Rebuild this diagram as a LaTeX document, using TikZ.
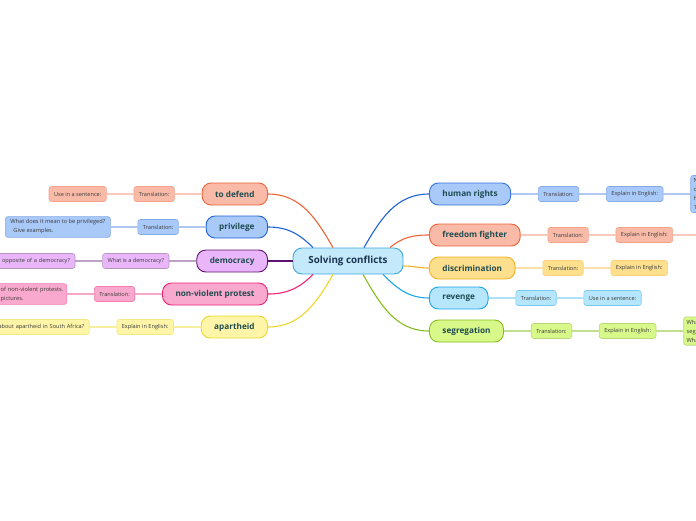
\documentclass[tikz,border=0pt]{standalone}
\usepackage{fontspec}
\setmainfont{Open Sans}
\usepackage{xcolor}
\usetikzlibrary{positioning}
\definecolor{rootfill}{HTML}{C3E9FB}
\definecolor{rootline}{HTML}{3FA8E2}
\definecolor{roottext}{HTML}{1B3552}
\definecolor{topictext}{HTML}{1E4B4F}
\definecolor{subtext}{HTML}{3A3A3A}
\definecolor{bluefill}{HTML}{A9C9F9}
\definecolor{blueline}{HTML}{1E63D6}
\definecolor{redfill}{HTML}{F9BBA8}
\definecolor{redline}{HTML}{EE6438}
\definecolor{goldfill}{HTML}{FDDF8E}
\definecolor{goldline}{HTML}{F6B022}
\definecolor{skyfill}{HTML}{B6E6FB}
\definecolor{skyline}{HTML}{18A6EA}
\definecolor{greenfill}{HTML}{D9F88A}
\definecolor{greenline}{HTML}{88BC1E}
\definecolor{purplefill}{HTML}{E9B7F9}
\definecolor{purpleline}{HTML}{5E1370}
\definecolor{pinkfill}{HTML}{F9A9CD}
\definecolor{pinkline}{HTML}{EC2476}
\definecolor{yellowfill}{HTML}{FEF5A8}
\definecolor{yellowline}{HTML}{EDD829}

\begin{document}
\begin{tikzpicture}[
    x=1pt, y=1pt,
    node distance=27pt,
    every node/.style={align=center},
    root/.style={rectangle, draw=rootline, fill=rootfill, line width=0.9pt, rounded corners=9pt, minimum width=110pt, minimum height=26pt, font=\fontsize{9.8}{11}\selectfont\bfseries, text=roottext},
    topic/.style={rectangle, rounded corners=9pt, line width=0.9pt, minimum height=22pt, inner xsep=13pt, font=\fontsize{8.2}{9}\selectfont\bfseries, text=topictext},
    sub/.style={rectangle, rounded corners=2.5pt, line width=0.6pt, minimum height=15pt, inner xsep=5pt, inner ysep=2pt, font=\fontsize{5.6}{7}\selectfont, text=subtext},
    note/.style={sub, align=left, inner ysep=3pt, font=\fontsize{5.7}{9}\selectfont},
    edgenote/.style={note, inner xsep=3pt, text width=40pt},
    branch/.style={line width=1.1pt},
    twig/.style={line width=1.2pt}
]
    \useasboundingbox (0,0) rectangle (696,-520);
    \clip (0,0) rectangle (696,-520);

    % Central topic
    \node[root] (root) at (348,-261) {Solving conflicts};

    % Right side
    \node[topic, draw=blueline!90, fill=bluefill, anchor=west] (hr) at (429,-194) {human rights};
    \node[sub, draw=blueline!55, fill=bluefill, right=of hr] (hr1) {Translation:};
    \node[sub, draw=blueline!55, fill=bluefill, right=of hr1] (hr2) {Explain in English:};
    \node[edgenote, draw=blueline!55, fill=bluefill, right=of hr2] (hr3) {N\\o\\h\\1};

    \node[topic, draw=redline, fill=redfill, anchor=west] (ff) at (429,-235) {freedom fighter};
    \node[sub, draw=redline!60, fill=redfill, right=of ff] (ff1) {Translation:};
    \node[sub, draw=redline!60, fill=redfill, right=of ff1] (ff2) {Explain in English:};
    \coordinate (ff3) at (720,-235);

    \node[topic, draw=goldline, fill=goldfill, anchor=west] (di) at (429,-268) {discrimination};
    \node[sub, draw=goldline!60, fill=goldfill, right=of di] (di1) {Translation:};
    \node[sub, draw=goldline!60, fill=goldfill, right=of di1] (di2) {Explain in English:};

    \node[topic, draw=skyline, fill=skyfill, anchor=west] (rv) at (429,-298) {revenge};
    \node[sub, draw=skyline!60, fill=skyfill, right=of rv] (rv1) {Translation:};
    \node[sub, draw=skyline!60, fill=skyfill, right=of rv1] (rv2) {Use in a sentence:};

    \node[topic, draw=greenline, fill=greenfill, anchor=west] (sg) at (429,-331) {segregation};
    \node[sub, draw=greenline!60, fill=greenfill, right=of sg] (sg1) {Translation:};
    \node[sub, draw=greenline!60, fill=greenfill, right=of sg1] (sg2) {Explain in English:};
    \node[edgenote, draw=greenline!60, fill=greenfill, right=of sg2] (sg3) {Wha\\seg\\Wha};

    % Left side
    \node[topic, draw=redline, fill=redfill, anchor=east] (td) at (268,-194) {to defend};
    \node[sub, draw=redline!60, fill=redfill, left=of td] (td1) {Translation:};
    \node[sub, draw=redline!60, fill=redfill, left=of td1] (td2) {Use in a sentence:};

    \node[topic, draw=blueline, fill=bluefill, anchor=east] (pv) at (268,-227) {privilege};
    \node[sub, draw=blueline!55, fill=bluefill, left=of pv] (pv1) {Translation:};
    \node[note, draw=blueline!55, fill=bluefill, left=of pv1] (pv2) {What does it mean to be privileged?\\\hspace{3pt}Give examples.};

    \node[topic, draw=purpleline, fill=purplefill, anchor=east] (dm) at (268,-261) {democracy};
    \node[sub, draw=purpleline!45, fill=purplefill, left=of dm] (dm1) {What is a democracy?};
    \node[sub, draw=purpleline!45, fill=purplefill, left=of dm1, text width=100pt, align=right] (dm2) {opposite of a democracy?};

    \node[topic, draw=pinkline, fill=pinkfill, anchor=east] (nv) at (268,-294) {non-violent protest};
    \node[sub, draw=pinkline!60, fill=pinkfill, left=of nv] (nv1) {Translation:};
    \node[note, draw=pinkline!60, fill=pinkfill, left=of nv1, text width=61pt] (nv2) {\mbox{of non-violent protests.}\\pictures.};

    \node[topic, draw=yellowline, fill=yellowfill, anchor=east] (ap) at (268,-327) {apartheid};
    \node[sub, draw=yellowline!60, fill=yellowfill, left=of ap] (ap1) {Explain in English:};
    \node[sub, draw=yellowline!60, fill=yellowfill, left=of ap1, text width=100pt, align=right] (ap2) {about apartheid in South Africa?};

    % Main branches
    \draw[branch, blueline] ([xshift=16pt]root.north) to[out=60, in=180] (hr.west);
    \draw[branch, redline] ([xshift=42pt]root.north) to[out=40, in=180] (ff.west);
    \draw[branch, goldline] ([yshift=-5pt]root.east) to[out=0, in=180] (di.west);
    \draw[branch, skyline] ([xshift=35pt]root.south) to[out=-45, in=180] (rv.west);
    \draw[branch, greenline] ([xshift=15pt]root.south) to[out=-60, in=180] (sg.west);
    \draw[branch, redline] ([xshift=-15pt]root.north) to[out=120, in=0] (td.east);
    \draw[branch, blueline] ([xshift=-35pt]root.north) to[out=135, in=0] (pv.east);
    \draw[branch, purpleline] (root.west) -- (dm.east);
    \draw[branch, pinkline] ([xshift=-35pt]root.south) to[out=-135, in=0] (nv.east);
    \draw[branch, yellowline] ([xshift=-15pt]root.south) to[out=-120, in=0] (ap.east);

    % Sub branches
    \draw[twig, blueline!35] (hr) -- (hr1) (hr1) -- (hr2) (hr2) -- (hr3);
    \draw[twig, redline!35] (ff) -- (ff1) (ff1) -- (ff2) (ff2) -- (ff3);
    \draw[twig, goldline!40] (di) -- (di1) (di1) -- (di2);
    \draw[twig, skyline!35] (rv) -- (rv1) (rv1) -- (rv2);
    \draw[twig, greenline!50] (sg) -- (sg1) (sg1) -- (sg2) (sg2) -- (sg3);
    \draw[twig, redline!35] (td) -- (td1) (td1) -- (td2);
    \draw[twig, blueline!35] (pv) -- (pv1) (pv1) -- (pv2);
    \draw[twig, purpleline!40] (dm) -- (dm1) (dm1) -- (dm2);
    \draw[twig, pinkline!40] (nv) -- (nv1) (nv1) -- (nv2);
    \draw[twig, yellowline!45] (ap) -- (ap1) (ap1) -- (ap2);
\end{tikzpicture}
\end{document}
